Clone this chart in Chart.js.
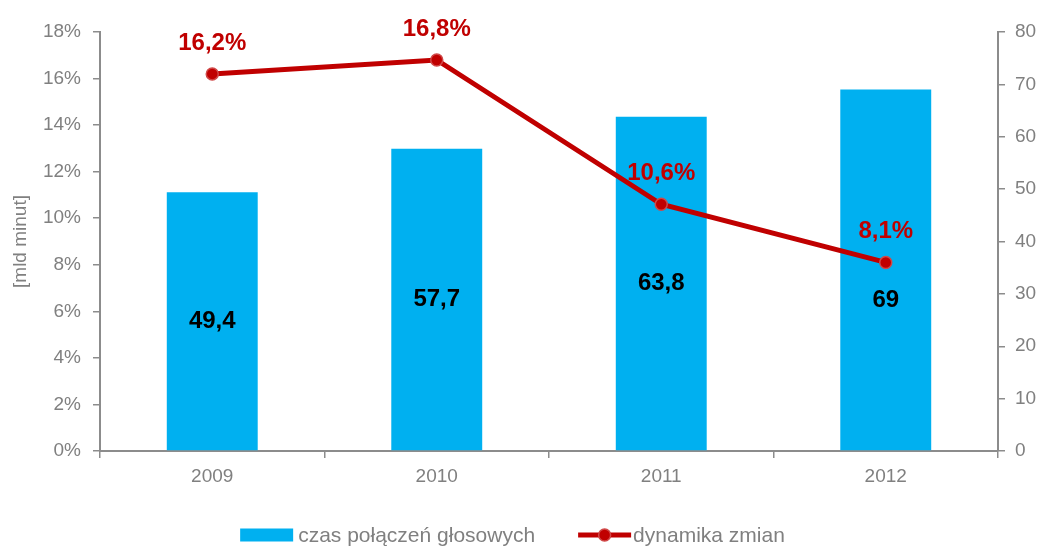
<!DOCTYPE html>
<html>
<head>
<meta charset="utf-8">
<script src="https://cdn.jsdelivr.net/npm/chart.js@4"></script>
<style>
  html, body { margin: 0; padding: 0; background: #fff; }
  #wrap { width: 1043px; height: 546px; }
</style>
</head>
<body>
<div id="wrap"><canvas id="chart"></canvas></div>
<script>
const years = ["2009", "2010", "2011", "2012"];
const callTime = [49.4, 57.7, 63.8, 69];        // mld minut
const growth = [16.2, 16.8, 10.6, 8.1];          // %
const leftTicks = [0, 2, 4, 6, 8, 10, 12, 14, 16, 18];
const rightTicks = [0, 10, 20, 30, 40, 50, 60, 70, 80];
const legendNames = ["czas połączeń głosowych", "dynamika zmian"];

const grey = "#808080";
const axisGrey = "#8c8c8c";
const blue = "#00B0F0";
const red = "#C00000";
const pointEdge = "#d04848";
const fontFamily = "'Liberation Sans', Arial, sans-serif";
const tickFont = { family: fontFamily, size: 19 };

const fmt = v => String(v).replace(".", ",");

const valueLabels = {
  id: "valueLabels",
  afterDatasetsDraw(chart, args, opts) {
    const ctx = chart.ctx;
    ctx.save();
    ctx.font = "bold 24px " + fontFamily;
    ctx.textAlign = "center";
    ctx.textBaseline = "middle";
    chart.getDatasetMeta(0).data.forEach((bar, i) => {
      const shift = (opts.barShift && opts.barShift[i]) || 0;
      ctx.fillStyle = "#000";
      ctx.fillText(fmt(callTime[i]), bar.x, (bar.y + bar.base) / 2 + shift);
    });
    chart.getDatasetMeta(1).data.forEach((pt, i) => {
      ctx.fillStyle = red;
      ctx.fillText(fmt(growth[i]) + "%", pt.x, pt.y - 31);
    });
    ctx.restore();
  }
};

// legend drawn by hand so the icon sizes and gaps match
const bottomLegend = {
  id: "bottomLegend",
  afterDraw(chart) {
    const ctx = chart.ctx;
    ctx.save();
    ctx.font = "21px " + fontFamily;
    ctx.textBaseline = "middle";
    const w1 = ctx.measureText(legendNames[0]).width;
    const w2 = ctx.measureText(legendNames[1]).width;
    const icon = 53, gapText = 5, gapItem = 43;
    const total = icon + gapText + w1 + gapItem + icon + 2 + w2;
    let x = chart.width / 2 - total / 2 - 9;
    const y = chart.height - 11;

    ctx.fillStyle = blue;
    ctx.fillRect(x, y - 6.5, icon, 13);
    x += icon + gapText;
    ctx.fillStyle = grey;
    ctx.fillText(legendNames[0], x, y + 1);
    x += w1 + gapItem;

    ctx.strokeStyle = red;
    ctx.lineWidth = 5;
    ctx.beginPath(); ctx.moveTo(x, y); ctx.lineTo(x + icon, y); ctx.stroke();
    ctx.fillStyle = red;
    ctx.strokeStyle = pointEdge;
    ctx.lineWidth = 1.5;
    ctx.beginPath(); ctx.arc(x + icon / 2, y, 6, 0, Math.PI * 2); ctx.fill(); ctx.stroke();
    x += icon + 2;
    ctx.fillStyle = grey;
    ctx.fillText(legendNames[1], x, y + 1);
    ctx.restore();
  }
};

new Chart(document.getElementById("chart"), {
  type: "bar",
  data: {
    labels: years,
    datasets: [
      {
        type: "bar",
        label: legendNames[0],
        data: callTime,
        backgroundColor: blue,
        yAxisID: "yR",
        barPercentage: 0.405,
        categoryPercentage: 1,
        order: 1
      },
      {
        type: "line",
        label: legendNames[1],
        data: growth,
        borderColor: red,
        borderWidth: 5,
        pointRadius: 6,
        pointBackgroundColor: red,
        pointBorderColor: pointEdge,
        pointBorderWidth: 1.5,
        yAxisID: "yL",
        order: 0
      }
    ]
  },
  plugins: [valueLabels, bottomLegend],
  options: {
    responsive: true,
    maintainAspectRatio: false,
    animation: false,
    layout: { padding: { top: 32, left: 0, right: 0, bottom: 59 } },
    plugins: {
      valueLabels: { barShift: [0, 0, 0, 30] },
      tooltip: { enabled: false },
      legend: { display: false }
    },
    scales: {
      x: {
        offset: true,
        grid: { display: true, offset: true, drawOnChartArea: false, drawTicks: true, tickLength: 7, color: axisGrey, lineWidth: 1.5 },
        border: { color: axisGrey, width: 2 },
        ticks: { color: grey, padding: 7, font: tickFont },
        afterFit: s => { s.height = 36; }
      },
      yL: {
        position: "left",
        min: 0, max: 18,
        afterBuildTicks: s => { s.ticks = leftTicks.map(v => ({ value: v })); },
        grid: { display: true, drawOnChartArea: false, drawTicks: true, tickLength: 7, color: axisGrey, lineWidth: 1.5 },
        border: { color: axisGrey, width: 2 },
        ticks: { color: grey, padding: 12, font: tickFont, callback: v => v + "%" },
        title: { display: true, text: "[mld minut]", color: grey, font: tickFont, padding: { top: 9, bottom: 0 } },
        afterFit: s => { s.width = 100; }
      },
      yR: {
        position: "right",
        min: 0, max: 80,
        afterBuildTicks: s => { s.ticks = rightTicks.map(v => ({ value: v })); },
        grid: { display: true, drawOnChartArea: false, drawTicks: true, tickLength: 7, color: axisGrey, lineWidth: 1.5 },
        border: { color: axisGrey, width: 2 },
        ticks: { color: grey, padding: 10, font: tickFont },
        afterFit: s => { s.width = 45; }
      }
    }
  }
});
</script>
</body>
</html>
